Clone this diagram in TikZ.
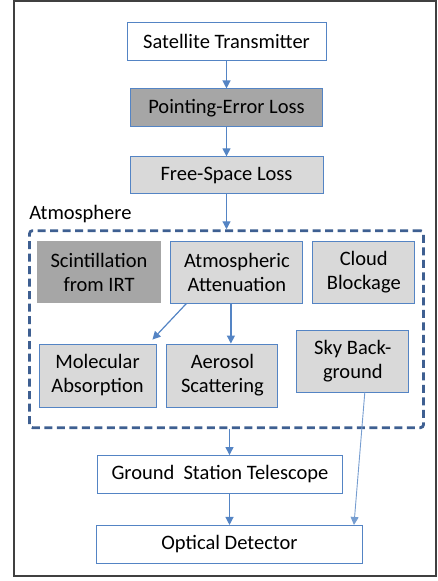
\documentclass[tikz,border=0pt]{standalone}
\usepackage{fontspec}
\setmainfont{Carlito}
\usepackage{tikz}
\usetikzlibrary{positioning, arrows.meta}
\definecolor{boxblue}{RGB}{84,132,196}
\definecolor{atmblue}{RGB}{62,95,145}
\definecolor{darkfill}{RGB}{166,166,166}
\definecolor{lightfill}{RGB}{217,217,217}

\tikzset{
  box/.style={draw=boxblue, line width=0.9pt, inner sep=0pt, align=center,
    font=\fontsize{20.5}{24}\selectfont},
  arr/.style={draw=boxblue, line width=1.2pt, -{Triangle[length=8pt,width=8pt]}},
}

\begin{document}
\begin{tikzpicture}[node distance=10pt]
  \useasboundingbox (0,0) rectangle (438pt,-581pt);
  \draw[black!75, line width=1.3pt] (14pt,-1pt) rectangle (436pt,-576pt);

  \node[box, minimum width=199pt, minimum height=38pt] at (226.5pt,-41pt) (st) {Satellite Transmitter};
  \node[box, fill=darkfill, minimum width=192pt, minimum height=38pt, below = 28pt of st] (pe) {Pointing-Error Loss};
  \node[box, fill=lightfill, minimum width=193pt, minimum height=37pt, below = 29pt of pe] (fs) {Free-Space Loss};

  \node[draw=atmblue, line width=2.8pt, dash pattern=on 8pt off 4.5pt, rounded corners=3pt,
        minimum width=394pt, minimum height=197pt, below = 35pt of fs] (atm) {};
  \node[font=\fontsize{20.5}{24}\selectfont, anchor=south west, inner sep=0pt] at ([xshift=1pt,yshift=6pt]atm.north west) (atmlabel) {Atmosphere};

  \node[box, draw=none, fill=darkfill, minimum width=124pt, minimum height=62pt] at (99pt,-272pt) (scint) {Scintillation\\from IRT};
  \node[box, fill=lightfill, minimum width=132pt, minimum height=62pt, right = 9pt of scint] (att) {Atmospheric\\Attenuation};
  \node[box, fill=lightfill, minimum width=102pt, minimum height=62pt, right = 9pt of att] (cloud) {Cloud\\Blockage};

  \node[box, fill=lightfill, minimum width=117pt, minimum height=63pt] at (97.5pt,-375.5pt) (mol) {Molecular\\Absorption};
  \node[box, fill=lightfill, minimum width=111pt, minimum height=63pt, right = 10pt of mol] (aer) {Aerosol\\Scattering};
  \node[box, fill=lightfill, minimum width=112pt, minimum height=62pt, right = 18pt of aer, yshift=14.5pt] (sky) {Sky Back-\\ground};

  \node[box, minimum width=245pt, minimum height=38pt, below = 26pt of atm, xshift=-6.5pt] (gs) {Ground\hspace{0.45em}Station Telescope};
  \node[box, minimum width=266pt, minimum height=38pt, below = 31pt of gs, xshift=9.5pt] (od) {Optical Detector};

  \draw[arr] (st) -- (pe);
  \draw[arr] (pe) -- (fs);
  \draw[arr] (fs) -- (atm.north);
  \draw[arr] ([xshift=16pt]att.south west) -- ([xshift=-4pt,yshift=4pt]mol.north east);
  \draw[arr] ([xshift=-6pt]att.south) -- ([xshift=-6pt]att.south |- aer.north);
  \draw[arr] (atm.south -| od.north) -- (gs.north -| od.north);
  \draw[arr] (gs.south -| od.north) -- (od.north);
  \draw[arr, line width=0.9pt, boxblue!80] ([xshift=12pt]sky.south) -- ([xshift=-9pt]od.north east);
\end{tikzpicture}
\end{document}
